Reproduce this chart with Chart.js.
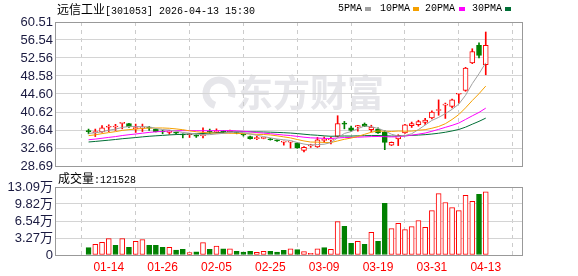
<!DOCTYPE html>
<html>
<head>
<meta charset="utf-8">
<script src="https://cdn.jsdelivr.net/npm/chart.js@4.4.1/dist/chart.umd.min.js"></script>
<style>
html, body { margin: 0; padding: 0; background: #fff; }
#wrap { position: relative; width: 578px; height: 276px; overflow: hidden; }
canvas { position: absolute; left: 0; }
#c1 { top: 0; }
#c2 { top: 170px; }
.t { position: absolute; white-space: nowrap; color: #000; font-family: "Liberation Mono", monospace; font-size: 10px; line-height: 14px; }
.cn { font-family: "Noto Sans CJK SC", sans-serif; font-size: 12px; }
.sw { position: absolute; width: 6px; height: 4px; }
</style>
</head>
<body>
<div id="wrap">
  <canvas id="c1" width="578" height="180"></canvas>
  <canvas id="c2" width="578" height="106"></canvas>
  <div class="t" style="left:57px;top:2px"><span class="cn">远信工业</span>[301053] 2026-04-13 15:30</div>
  <div class="t" style="left:338px;top:2px">5PMA</div><div class="sw" style="left:365px;top:7px;background:#a0a0a0"></div>
  <div class="t" style="left:380px;top:2px">10PMA</div><div class="sw" style="left:413px;top:7px;background:#f5a000"></div>
  <div class="t" style="left:425px;top:2px">20PMA</div><div class="sw" style="left:459px;top:7px;background:#ff00ff"></div>
  <div class="t" style="left:472px;top:2px">30PMA</div><div class="sw" style="left:505px;top:7px;background:#006f36"></div>
  <div class="t" style="left:58px;top:170px;line-height:15px"><span class="cn">成交量</span>:121528</div>
</div>
<script>
// trading days shown (MM-DD)
const dates = [
  '01-09','01-12','01-13','01-14','01-15','01-16','01-19','01-20','01-21','01-22',
  '01-23','01-26','01-27','01-28','01-29','01-30','02-02','02-03','02-04','02-05',
  '02-06','02-09','02-10','02-11','02-12','02-13','02-24','02-25','02-26','02-27',
  '03-02','03-03','03-04','03-05','03-06','03-09','03-10','03-11','03-12','03-13',
  '03-16','03-17','03-18','03-19','03-20','03-23','03-24','03-25','03-26','03-27',
  '03-30','03-31','04-01','04-02','04-03','04-07','04-08','04-09','04-10','04-13'
];
const open = [
  36.35,36.05,36.20,37.25,37.30,38.10,38.05,36.95,37.05,37.15,
  36.80,36.30,36.10,36.05,35.65,35.60,35.45,35.40,36.25,36.20,
  36.35,36.30,36.10,35.70,35.20,34.75,34.80,34.70,34.40,33.95,
  33.95,33.80,32.15,33.15,32.90,34.35,34.45,35.20,38.10,37.15,
  37.30,37.95,36.70,36.85,36.20,33.30,34.70,36.00,37.60,37.85,
  38.30,39.30,40.95,42.15,41.85,44.55,45.40,51.45,55.35,51.10
];
const high = [
  36.85,36.85,37.60,37.80,37.90,38.15,38.10,37.95,37.95,37.45,
  36.90,36.60,36.60,36.20,35.80,35.90,35.60,37.10,36.85,36.90,
  36.50,36.60,36.20,35.80,35.30,35.30,35.00,34.80,34.50,34.20,
  34.05,33.90,33.00,33.50,35.00,35.10,35.10,39.80,38.55,37.50,
  37.65,38.20,37.70,37.10,36.50,34.00,35.60,37.90,38.40,38.80,
  39.25,40.90,43.30,42.60,43.50,44.70,50.50,54.60,55.90,58.30
];
const low = [
  35.80,35.20,36.10,36.30,36.55,36.90,37.20,36.10,36.30,36.55,
  36.20,35.80,35.70,35.80,34.90,35.00,35.00,34.90,35.90,36.00,
  36.00,36.00,35.80,35.30,34.60,34.50,34.70,34.40,34.10,33.30,
  32.65,32.60,31.80,32.80,32.80,33.90,33.55,35.10,36.90,36.30,
  36.40,37.40,36.20,35.90,32.30,33.20,33.20,35.90,37.20,37.50,
  37.90,39.10,39.90,39.20,41.50,42.60,45.20,51.30,52.55,48.85
];
const close = [
  36.30,36.15,37.15,37.35,37.30,38.10,37.30,37.05,37.15,37.05,
  36.30,36.20,36.45,35.95,35.55,35.60,35.30,35.50,36.15,36.30,
  36.25,36.30,35.95,35.55,34.75,34.85,34.90,34.50,34.25,33.95,
  34.00,32.70,32.80,33.15,34.50,34.35,34.55,38.05,37.95,36.55,
  37.60,37.45,37.30,36.00,33.90,33.90,35.45,37.80,38.05,38.50,
  38.85,40.60,41.15,42.15,43.30,44.65,50.35,54.00,53.10,55.35
];
// volume, in 万
const volume = [
  1.43,2.06,2.45,3.16,1.87,3.16,1.48,2.64,2.97,1.87,
  1.87,1.48,1.48,0.96,1.10,0.46,0.60,2.39,1.10,1.73,
  1.20,1.20,0.73,0.55,0.73,0.50,0.70,0.73,0.55,0.88,
  1.20,1.04,0.66,0.30,1.20,1.43,1.07,6.42,5.53,2.25,
  2.64,2.06,4.37,2.64,9.96,5.09,6.10,4.89,5.47,6.63,
  5.34,8.55,11.83,10.10,9.13,8.55,11.50,10.35,11.70,12.15
];
// closes before the visible window (estimated so the MA lines start where they do)
const priorCloses = [
  32.6,32.9,33.2,32.8,33.1,33.4,33.0,32.7,33.1,33.2,
  33.5,33.3,33.6,33.8,33.4,33.7,33.9,33.5,33.6,33.7,
  34.3,34.6,35.0,35.2,35.4,35.6,35.9,35.7,36.0
];
const priceTicks = [28.69, 32.66, 36.64, 40.62, 44.60, 48.58, 52.56, 56.54, 60.51];
const volTicks = [0, 3.27, 6.54, 9.82, 13.09];
const maDays = [5, 10, 20, 30];
const maColors = ['#a0a0a0', '#f5a000', '#ff00ff', '#006f36'];

const RED = '#ff0000', GREEN = '#008000';
const AXIS_TXT = '#1a1a40';
const X_MIN = -0.65, X_MAX = 60.05;

function candleUp(i) { return close[i] >= open[i]; }
function volUp(i) {
  if (close[i] !== open[i]) return close[i] > open[i];
  const prev = i > 0 ? close[i - 1] : priorCloses[priorCloses.length - 1];
  return close[i] >= prev;
}

const allClose = priorCloses.concat(close);
function movingAvg(n) {
  return close.map((c, i) => {
    const end = priorCloses.length + i + 1;
    const s = allClose.slice(end - n, end).reduce((a, b) => a + b, 0);
    return { x: i, y: s / n };
  });
}

// label every 8th trading day, starting at 01-14
const labelIdx = dates.map((d, i) => i).filter(i => (i - 3) % 8 === 0);

const boxPlugin = {
  id: 'box',
  beforeDatasetsDraw(chart) {
    const a = chart.chartArea, ctx = chart.ctx;
    ctx.save();
    ctx.strokeStyle = '#999';
    ctx.lineWidth = 1;
    ctx.strokeRect(Math.round(a.left) + 0.5, Math.round(a.top) + 0.5,
      Math.round(a.right - a.left), Math.round(a.bottom - a.top));
    ctx.restore();
  }
};

const watermark = {
  id: 'watermark',
  beforeDraw(chart) {
    const ctx = chart.ctx;
    ctx.save();
    ctx.fillStyle = '#e6e6ea';
    ctx.strokeStyle = '#e6e6ea';
    ctx.lineWidth = 7;
    ctx.beginPath();
    ctx.arc(219, 93, 13, Math.PI * 0.6, Math.PI * 2.1);
    ctx.stroke();
    ctx.font = 'bold 37px "Noto Sans CJK SC"';
    ctx.textBaseline = 'middle';
    ctx.fillText('东方财富', 236, 93);
    ctx.restore();
  }
};

function xAxis(showLabels, height) {
  return {
    type: 'linear', min: X_MIN, max: X_MAX,
    afterBuildTicks: s => { s.ticks = labelIdx.map(v => ({ value: v })); },
    afterFit: s => { s.height = height; },
    grid: { color: '#cccccc', drawTicks: false },
    border: { display: false, dash: [4, 4] },
    ticks: {
      display: showLabels, autoSkip: false, maxRotation: 0, padding: 5,
      color: RED, font: { family: 'Liberation Sans', size: 12 },
      callback: v => dates[v]
    }
  };
}

function yAxis(min, max, tickVals, fmt, family) {
  return {
    min: min, max: max,
    afterBuildTicks: s => { s.ticks = tickVals.map(v => ({ value: v })); },
    afterFit: s => { s.width = 55; },
    grid: { color: '#d4d4d4', drawTicks: false },
    border: { display: false },
    ticks: {
      autoSkip: false, padding: 2, color: AXIS_TXT,
      font: { family: family, size: 13 },
      callback: fmt
    }
  };
}

new Chart(document.getElementById('c1'), {
  type: 'bar',
  data: {
    datasets: maDays.map((n, k) => ({
      type: 'line', data: movingAvg(n), borderColor: maColors[k], borderWidth: 1,
      pointRadius: 0, tension: 0, order: 0
    })).concat([
      {
        data: close.map((c, i) => ({ x: i, y: [Math.min(open[i], c), Math.max(open[i], c)] })),
        backgroundColor: close.map((c, i) => candleUp(i) ? '#ffffff' : GREEN),
        borderColor: close.map((c, i) => candleUp(i) ? RED : GREEN),
        borderWidth: 1, borderSkipped: false, barThickness: 5, minBarLength: 1,
        grouped: false, order: 1
      },
      {
        data: close.map((c, i) => ({ x: i, y: [low[i], high[i]] })),
        backgroundColor: close.map((c, i) => candleUp(i) ? RED : GREEN),
        borderWidth: 0, barThickness: 1, grouped: false, order: 2
      }
    ])
  },
  options: {
    responsive: false, animation: false, devicePixelRatio: 1, events: [],
    layout: { padding: { left: 0, right: 56, top: 22, bottom: 14 } },
    plugins: { legend: { display: false }, tooltip: { enabled: false } },
    scales: {
      x: xAxis(false, 0),
      y: yAxis(28.69, 60.51, priceTicks, v => v.toFixed(2), 'Liberation Sans')
    }
  },
  plugins: [watermark, boxPlugin]
});

new Chart(document.getElementById('c2'), {
  type: 'bar',
  data: {
    datasets: [{
      data: volume.map((v, i) => ({ x: i, y: v })),
      backgroundColor: volume.map((v, i) => volUp(i) ? '#ffffff' : GREEN),
      borderColor: volume.map((v, i) => volUp(i) ? RED : GREEN),
      borderWidth: 1, borderSkipped: false, barThickness: 5, grouped: false
    }]
  },
  options: {
    responsive: false, animation: false, devicePixelRatio: 1, events: [],
    layout: { padding: { left: 0, right: 56, top: 17, bottom: 0 } },
    plugins: { legend: { display: false }, tooltip: { enabled: false } },
    scales: {
      x: xAxis(true, 21),
      y: yAxis(0, 13.09, volTicks, v => v === 0 ? '0' : v.toFixed(2) + '万',
        '"Liberation Sans", "Noto Sans CJK SC"')
    }
  },
  plugins: [boxPlugin]
});
</script>
</body>
</html>
